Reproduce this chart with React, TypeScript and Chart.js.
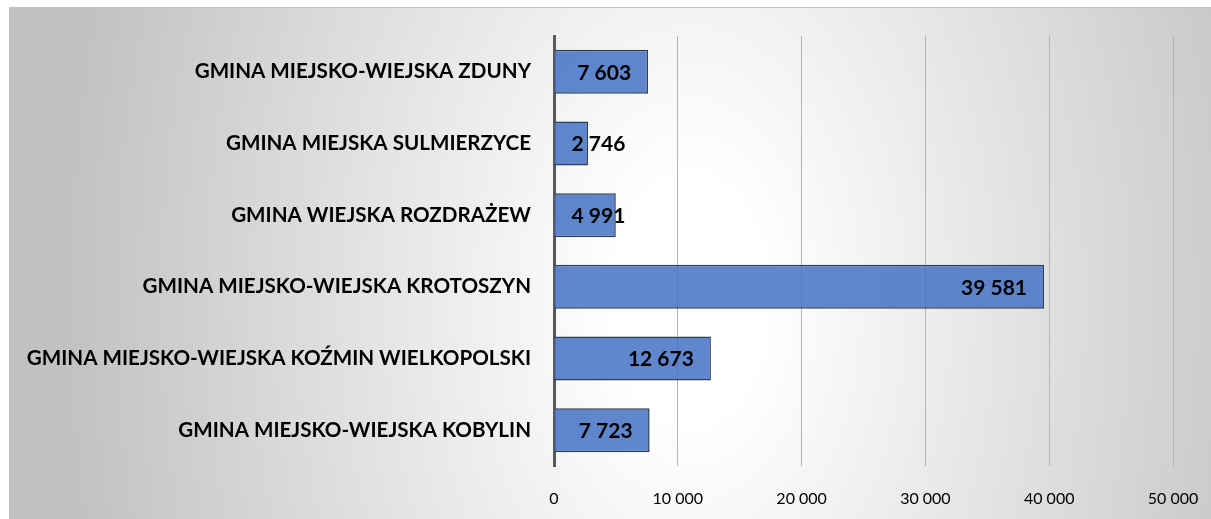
import React, { useEffect, useRef } from "react";
import { Chart, registerables } from "chart.js";

Chart.register(...registerables);

const categories = [
  "GMINA MIEJSKO-WIEJSKA ZDUNY",
  "GMINA MIEJSKA SULMIERZYCE",
  "GMINA WIEJSKA ROZDRAŻEW",
  "GMINA MIEJSKO-WIEJSKA KROTOSZYN",
  "GMINA MIEJSKO-WIEJSKA KOŹMIN WIELKOPOLSKI",
  "GMINA MIEJSKO-WIEJSKA KOBYLIN",
];
const values = [7603, 2746, 4991, 39581, 12673, 7723];
const axisMin = 0;
const axisMax = 50000;
const axisStep = 10000;

const FONT = "Lato, 'Open Sans', sans-serif";

const fmt = (v: number) =>
  String(Math.round(v)).replace(/\B(?=(\d{3})+(?!\d))/g, " ");

export default function App() {
  const ref = useRef<HTMLCanvasElement>(null);

  useEffect(() => {
    const bgPlugin = {
      id: "bg",
      beforeDraw(chart: any) {
        const ctx = chart.ctx as CanvasRenderingContext2D;
        ctx.save();
        const x0 = 9, y0 = 7, w = chart.width - 9, h = chart.height - 7;
        ctx.beginPath();
        ctx.rect(x0, y0, w, h);
        ctx.clip();
        ctx.translate(690, 300);
        ctx.scale(1, 1.6);
        const g = ctx.createRadialGradient(0, 0, 0, 0, 0, 620);
        g.addColorStop(0, "#ffffff");
        g.addColorStop(0.12, "#ffffff");
        g.addColorStop(1, "#c2c2c2");
        ctx.fillStyle = g;
        ctx.fillRect(-800, -400, 1700, 800);
        ctx.restore();
        ctx.save();
        ctx.strokeStyle = "#c4c4c4";
        ctx.lineWidth = 1;
        ctx.beginPath();
        ctx.moveTo(9, 7.5);
        ctx.lineTo(chart.width, 7.5);
        ctx.stroke();
        ctx.restore();
      },
    };

    const labelPlugin = {
      id: "valueLabels",
      afterDatasetsDraw(chart: any) {
        const ctx = chart.ctx as CanvasRenderingContext2D;
        const meta = chart.getDatasetMeta(0);
        ctx.save();
        ctx.font = `bold 21px ${FONT}`;
        ctx.fillStyle = "#000";
        ctx.textAlign = "right";
        ctx.textBaseline = "middle";
        meta.data.forEach((bar: any, i: number) => {
          const txt = fmt(values[i]);
          const tw = ctx.measureText(txt).width;
          const xr = Math.max(bar.x - 17, bar.base + 17 + tw);
          ctx.fillText(txt, xr, bar.y + 1);
        });
        ctx.restore();
      },
    };

    const chart = new Chart(ref.current as HTMLCanvasElement, {
      type: "bar",
      data: {
        labels: categories,
        datasets: [
          {
            data: values,
            backgroundColor: "rgba(68,114,196,0.85)",
            borderColor: "#2F3E58",
            borderWidth: 1.5,
            barPercentage: 1,
            categoryPercentage: 0.615,
          },
        ],
      },
      options: {
        indexAxis: "y",
        responsive: false,
        animation: false,
        devicePixelRatio: 1,
        layout: { padding: { top: 36, right: 38, left: 0, bottom: 0 } },
        plugins: { legend: { display: false }, tooltip: { enabled: false } },
        scales: {
          x: {
            min: axisMin,
            max: axisMax,
            ticks: {
              stepSize: axisStep,
              callback: (v: any) => fmt(Number(v)),
              color: "#000",
              font: { family: FONT, size: 16 },
              padding: 23,
              maxRotation: 0,
            },
            grid: { color: "#b4b4b4", drawTicks: false, lineWidth: 1 },
            border: { display: false },
            afterFit(s: any) {
              s.height = 519 - 466;
              s.paddingLeft = 0;
              s.paddingRight = 0;
            },
          },
          y: {
            ticks: {
              color: "#000",
              font: { family: FONT, size: 20.6, weight: "bold" },
              padding: 23,
            },
            grid: { display: false, drawTicks: false },
            border: { display: true, color: "#595959", width: 3 },
            afterFit(s: any) {
              s.width = 554;
              s.paddingTop = 0;
              s.paddingBottom = 0;
            },
          },
        },
      },
      plugins: [bgPlugin, labelPlugin],
    });
    return () => chart.destroy();
  }, []);

  return (
    <div style={{ position: "fixed", left: 0, top: 0, width: 1211, height: 519 }}>
      <canvas ref={ref} width={1211} height={519} style={{ display: "block" }} />
    </div>
  );
}
